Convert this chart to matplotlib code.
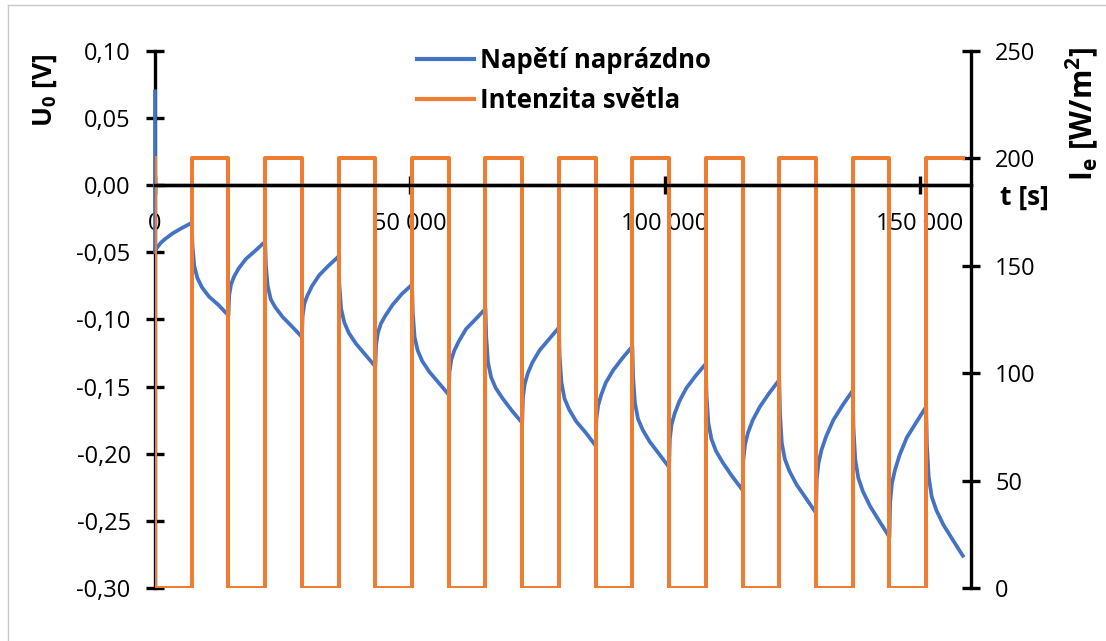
import numpy as np
import matplotlib
matplotlib.use('Agg')
import matplotlib.pyplot as plt
from matplotlib.ticker import FixedLocator, FuncFormatter
from matplotlib.lines import Line2D

plt.rcParams['font.family'] = ['Open Sans', 'DejaVu Sans']
plt.rcParams['mathtext.fontset'] = 'custom'
plt.rcParams['mathtext.rm'] = 'Open Sans'
plt.rcParams['mathtext.bf'] = 'Open Sans:bold'
plt.rcParams['mathtext.it'] = 'Open Sans:italic'

# casove body v kazdem useku (s od zacatku useku)
offsets = [0, 150, 500, 1100, 2000, 3400, 5200, 7200]
seg_len = 7200

# napeti naprazdno [V], usek po useku (tma / svetlo)
u_start = 0.070
u_segments = [
    [-0.050, -0.048, -0.046, -0.043, -0.040, -0.036, -0.032, -0.028],
    [-0.028, -0.045, -0.060, -0.069, -0.076, -0.083, -0.089, -0.097],
    [-0.097, -0.082, -0.074, -0.068, -0.062, -0.055, -0.049, -0.042],
    [-0.042, -0.060, -0.075, -0.085, -0.091, -0.098, -0.105, -0.113],
    [-0.113, -0.097, -0.088, -0.082, -0.075, -0.067, -0.060, -0.053],
    [-0.053, -0.074, -0.092, -0.102, -0.110, -0.118, -0.126, -0.135],
    [-0.135, -0.119, -0.110, -0.103, -0.097, -0.089, -0.081, -0.074],
    [-0.074, -0.095, -0.113, -0.123, -0.131, -0.139, -0.147, -0.156],
    [-0.156, -0.139, -0.130, -0.123, -0.116, -0.107, -0.100, -0.092],
    [-0.092, -0.113, -0.132, -0.143, -0.151, -0.159, -0.168, -0.177],
    [-0.177, -0.158, -0.148, -0.140, -0.132, -0.123, -0.115, -0.106],
    [-0.106, -0.128, -0.147, -0.159, -0.167, -0.176, -0.184, -0.194],
    [-0.194, -0.174, -0.164, -0.156, -0.147, -0.138, -0.129, -0.120],
    [-0.120, -0.143, -0.162, -0.174, -0.182, -0.191, -0.200, -0.210],
    [-0.210, -0.189, -0.178, -0.170, -0.161, -0.151, -0.142, -0.133],
    [-0.133, -0.157, -0.177, -0.189, -0.198, -0.207, -0.217, -0.227],
    [-0.227, -0.205, -0.193, -0.184, -0.175, -0.165, -0.155, -0.145],
    [-0.145, -0.170, -0.192, -0.204, -0.213, -0.223, -0.233, -0.244],
    [-0.244, -0.219, -0.207, -0.197, -0.187, -0.175, -0.164, -0.153],
    [-0.153, -0.180, -0.204, -0.218, -0.228, -0.239, -0.250, -0.262],
    [-0.262, -0.236, -0.222, -0.212, -0.201, -0.188, -0.177, -0.165],
    [-0.165, -0.193, -0.217, -0.232, -0.242, -0.253, -0.264, -0.276],
]

# intenzita svetla [W/m2]: casy prepnuti a hodnoty po prepnuti
ie_times = [0, 0, 7200, 14400, 21600, 28800, 36000, 43200, 50400, 57600, 64800,
            72000, 79200, 86400, 93600, 100800, 108000, 115200, 122400, 129600,
            136800, 144000, 151200, 158400]
ie_values = [200, 0, 200, 0, 200, 0, 200, 0, 200, 0, 200,
             0, 200, 0, 200, 0, 200, 0, 200, 0,
             200, 0, 200, 200]

u_ticks = [-0.30, -0.25, -0.20, -0.15, -0.10, -0.05, 0.00, 0.05, 0.10]
ie_ticks = [0, 50, 100, 150, 200, 250]
t_ticks = [0, 50000, 100000, 150000]

t_u = [0]
u = [u_start]
for i, seg in enumerate(u_segments):
    t_u += [i * seg_len + o for o in offsets]
    u += seg

fig = plt.figure(figsize=(11.06, 6.41), dpi=100)
ax = fig.add_axes([155 / 1106, 1 - 588 / 641, (971 - 155) / 1106, (588 - 51) / 641])
ax2 = ax.twinx()

blue = '#4472C4'
orange = '#ED7D31'

ax.plot(t_u, u, color=blue, lw=2.7, solid_joinstyle='round', zorder=3, clip_on=False)
ax2.plot(ie_times, ie_values, color=orange, lw=2.9, drawstyle='steps-post')

ax.set_xlim(0, 160000)
ax.set_ylim(-0.30, 0.10)
ax2.set_ylim(0, 250)

for s in ['top', 'right']:
    ax.spines[s].set_visible(False)
for s in ['top', 'left']:
    ax2.spines[s].set_visible(False)
ax.spines['bottom'].set_position(('data', 0))
ax2.spines['bottom'].set_position(('axes', 0.75))
for sp in [ax.spines['left'], ax.spines['bottom'], ax2.spines['right'], ax2.spines['bottom']]:
    sp.set_linewidth(2.4)
    sp.set_color('black')

ax.yaxis.set_major_locator(FixedLocator(u_ticks))
ax.yaxis.set_major_formatter(FuncFormatter(lambda v, p: f'{v:.2f}'.replace('.', ',')))
ax.xaxis.set_major_locator(FixedLocator(t_ticks))
ax.xaxis.set_major_formatter(FuncFormatter(lambda v, p: f'{int(v):,}'.replace(',', ' ')))
ax2.yaxis.set_major_locator(FixedLocator(ie_ticks))

ax.tick_params(axis='y', direction='inout', length=13, width=2.4, labelsize=17, pad=11)
ax.tick_params(axis='x', direction='inout', length=13, width=2.4, labelsize=17, pad=13)
ax2.tick_params(axis='y', direction='inout', length=13, width=2.4, labelsize=17, pad=11)

fig.text(45 / 1106, 1 - 90 / 641, r'$\mathbf{U_0}$ [V]', rotation=90, ha='center', va='center',
         fontsize=19, fontweight='bold')
fig.text(1082 / 1106, 1 - 114 / 641, r'$\mathbf{I_e}$ [W/$\mathbf{m^2}$]', rotation=90,
         ha='center', va='center', fontsize=21.5, fontweight='bold')
fig.text(1024 / 1106, 1 - 197 / 641, 't [s]', ha='center', va='center', fontsize=19, fontweight='bold')

handles = [Line2D([], [], color=blue, lw=3), Line2D([], [], color=orange, lw=3)]
ax2.legend(handles, ['Napětí naprázdno', 'Intenzita světla'], loc='upper left',
           bbox_to_anchor=(407 / 1106, 1 - 37 / 641), bbox_transform=fig.transFigure,
           frameon=False, prop={'weight': 'bold', 'size': 18.5},
           handlelength=2.2, handletextpad=0.25, labelspacing=0.5, borderaxespad=0)

# okraj grafu
fig.add_artist(Line2D([8 / 1106, 8 / 1106], [0, 1 - 5 / 641], color='#c8c8c8', lw=1,
                      transform=fig.transFigure))
fig.add_artist(Line2D([8 / 1106, 1], [1 - 5 / 641, 1 - 5 / 641], color='#c8c8c8', lw=1,
                      transform=fig.transFigure))

fig.savefig('out.png', dpi=100)
